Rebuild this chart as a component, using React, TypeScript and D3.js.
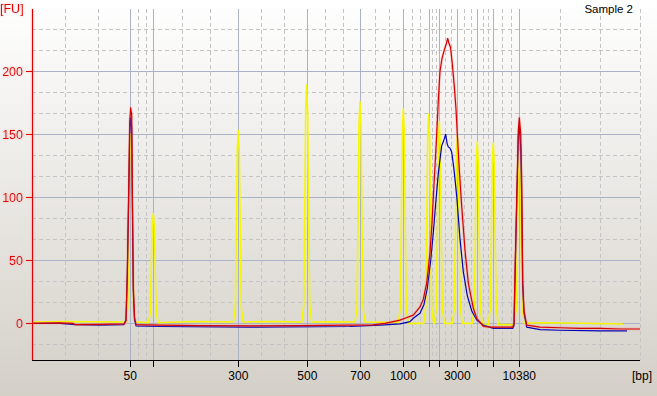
import React, { useEffect } from 'react';
import * as d3 from 'd3';

// ladder (DNA 7500) sizes and their migration times [s]
const ladderBp = [50, 100, 300, 500, 700, 1000, 1500, 2000, 3000, 5000, 7000, 10380];
const ladderTime = [26.83, 29.13, 37.63, 44.53, 49.83, 54.13, 56.67, 57.73, 59.53, 61.53, 63.13, 65.73];
const labeledBp = [50, 300, 500, 700, 1000, 3000, 10380];
const fuTicks = [0, 50, 100, 150, 200];

// [time s, FU]
const redTrace: [number, number][] = [
  [17.0, 0], [19.8, 0.3], [21.1, 0], [21.3, -1], [23.8, -0.8], [26.2, -0.5], [26.4, 2],
  [26.53, 40], [26.67, 106], [26.77, 160], [26.87, 171], [26.97, 165], [27.03, 110],
  [27.13, 30], [27.25, 5], [27.4, -1], [29.8, -1.5], [33.8, -1.8], [38.8, -2], [43.8, -1.8],
  [48.8, -1.5], [51.1, -1.3], [52.3, 0], [53.1, 1.3], [53.8, 2.5], [54.3, 4], [55.13, 6.5],
  [55.8, 13], [56.13, 19], [56.47, 32], [56.8, 56], [57.0, 80], [57.2, 110], [57.47, 150],
  [57.65, 180], [57.8, 200], [58.0, 210], [58.23, 217], [58.4, 221], [58.57, 226], [58.7, 222],
  [58.85, 219], [59.03, 206], [59.23, 188], [59.4, 170], [59.53, 150], [59.73, 122],
  [59.97, 93], [60.3, 58], [60.63, 32], [60.8, 25], [61.13, 12], [61.47, 4], [61.8, 1],
  [62.13, -2.5], [62.8, -3], [64.1, -3], [65.07, -3], [65.2, 0], [65.3, 41], [65.47, 98],
  [65.63, 153], [65.73, 163], [65.87, 151], [65.97, 114], [66.07, 34], [66.2, 10],
  [66.47, -1.5], [67.8, -3], [69.8, -3.5], [71.8, -4], [73.8, -4], [75.8, -4.5], [77.8, -4.5],
];

const blueTrace: [number, number][] = [
  [17.0, 0], [19.8, 0], [21.3, -1], [23.8, -1.5], [26.2, -1], [26.4, 3], [26.53, 38],
  [26.67, 100], [26.77, 150], [26.87, 163], [26.97, 155], [27.03, 100], [27.13, 25],
  [27.25, 3], [27.4, -2], [29.8, -2.5], [38.8, -3], [48.8, -2.5], [51.8, -1.5], [53.8, -0.5],
  [54.8, 1.3], [55.13, 4], [55.8, 8], [56.2, 15], [56.53, 28], [56.87, 50], [57.13, 72],
  [57.4, 98], [57.63, 119], [57.8, 130], [57.97, 141], [58.13, 144], [58.25, 147],
  [58.37, 150], [58.5, 143], [58.63, 140], [58.8, 139], [58.97, 136], [59.2, 122],
  [59.47, 101], [59.8, 67], [60.13, 41], [60.53, 22], [60.97, 10], [61.47, 2.6],
  [62.13, -1.3], [63.13, -4], [65.07, -4], [65.2, -2], [65.3, 35], [65.47, 95], [65.63, 148],
  [65.73, 156], [65.87, 140], [65.97, 100], [66.07, 30], [66.2, 8], [66.47, -3], [67.8, -5],
  [69.8, -5.5], [73.8, -6], [76.5, -6],
];

const yellowTrace: [number, number][] = [
  [17.0, 1], [20.0, 1.5], [23.0, 1.2], [25.5, 1],
  [26.37, 1], [26.57, 12], [26.67, 75], [26.77, 135], [26.87, 150], [26.97, 130], [27.07, 65], [27.17, 12], [27.37, 1],
  [28.63, 0.5], [28.83, 8], [28.93, 45], [29.03, 78], [29.13, 87], [29.23, 76], [29.33, 40], [29.43, 8], [29.63, 0.5],
  [33.0, 1.5],
  [37.13, 1], [37.33, 12], [37.43, 75], [37.53, 138], [37.63, 153], [37.73, 135], [37.83, 70], [37.93, 12], [38.13, 1],
  [41.0, 1.5],
  [43.97, 1], [44.17, 14], [44.27, 85], [44.37, 170], [44.47, 189], [44.57, 165], [44.67, 80], [44.77, 14], [44.97, 1],
  [47.0, 1.2],
  [49.3, 1], [49.5, 12], [49.6, 80], [49.7, 158], [49.8, 176], [49.9, 155], [50.0, 75], [50.1, 12], [50.3, 1],
  [52.0, 0.8],
  [53.63, 0.5], [53.83, 12], [53.93, 75], [54.03, 152], [54.13, 170], [54.23, 150], [54.33, 70], [54.43, 12], [54.63, 0],
  [56.17, 0], [56.37, 12], [56.47, 72], [56.57, 148], [56.67, 166], [56.77, 145], [56.87, 68], [56.97, 12], [57.17, 0],
  [57.23, 0], [57.43, 12], [57.53, 70], [57.63, 142], [57.73, 160], [57.83, 140], [57.93, 65], [58.03, 12], [58.23, 0],
  [59.03, 0], [59.23, 12], [59.33, 65], [59.43, 132], [59.53, 149], [59.63, 130], [59.73, 62], [59.83, 12], [60.03, 0],
  [61.03, 0], [61.23, 12], [61.33, 64], [61.43, 128], [61.53, 144], [61.63, 126], [61.73, 60], [61.83, 12], [62.03, -0.5],
  [62.63, -1], [62.83, 12], [62.93, 63], [63.03, 127], [63.13, 143], [63.23, 125], [63.33, 58], [63.43, 12], [63.63, -1],
  [65.23, -1], [65.43, 12], [65.53, 62], [65.63, 120], [65.73, 136], [65.83, 118], [65.93, 58], [66.03, 12], [66.23, 0],
  [68.0, 0.5], [72.0, 0], [76.1, -0.5],
];

const W = 657;
const H = 396;
const font = '"Liberation Sans", Arial, sans-serif';

export default function App() {
  useEffect(() => {
    document.body.style.margin = '0';
  }, []);

  const x = d3.scaleLinear().domain([17, 77.8]).range([32, 640]);
  const y = d3.scaleLinear().domain([-29.1, 249.4]).range([360, 9]);
  const [x0, x1] = x.range();
  const [yBottom, yTop] = y.range();
  const crisp = (v: number) => Math.round(v) + 0.5;

  // minor grid: thirds between major positions
  const xBounds = [x.domain()[0], ...ladderTime, x.domain()[1]];
  const xMinor: number[] = [];
  for (let i = 0; i < xBounds.length - 1; i++) {
    const a = xBounds[i], b = xBounds[i + 1];
    xMinor.push(a + (b - a) / 3, a + (2 * (b - a)) / 3);
  }
  xMinor.push(x.domain()[1]);
  const yMinor = d3.range(-2, 15).map(k => (k * 50) / 3).filter(v => v % 50 !== 0 && v > y.domain()[0] && v < y.domain()[1]);

  const line = d3.line<[number, number]>().x(d => x(d[0])).y(d => y(d[1]));

  return (
    <svg width={W} height={H} style={{ display: 'block' }} fontFamily={font}>
      <defs>
        <linearGradient id="bg" x1="0" y1="0" x2="0" y2="1">
          <stop offset="0" stopColor="#ffffff" />
          <stop offset="1" stopColor="#d4d0c8" />
        </linearGradient>
        <filter id="glow" x="-20%" y="-20%" width="140%" height="140%">
          <feGaussianBlur in="SourceAlpha" stdDeviation="1.2" result="b" />
          <feFlood floodColor="#ff8080" floodOpacity="0.55" />
          <feComposite in2="b" operator="in" result="g" />
          <feMerge>
            <feMergeNode in="g" />
            <feMergeNode in="SourceGraphic" />
          </feMerge>
        </filter>
      </defs>
      <rect width={W} height={H} fill="url(#bg)" />

      {/* minor grid */}
      <g stroke="#c4c4c4" strokeDasharray="4,3" strokeWidth={1}>
        {xMinor.map((t, i) => (
          <line key={'xm' + i} x1={crisp(x(t))} x2={crisp(x(t))} y1={yTop} y2={yBottom} />
        ))}
        {yMinor.map((v, i) => (
          <line key={'ym' + i} x1={x0} x2={x1} y1={crisp(y(v))} y2={crisp(y(v))} />
        ))}
      </g>

      {/* major grid */}
      <g stroke="#aab3c5" strokeWidth={1}>
        {ladderTime.map((t, i) => (
          <line key={'xM' + i} x1={crisp(x(t))} x2={crisp(x(t))} y1={yTop} y2={yBottom} />
        ))}
        {fuTicks.map(v => (
          <line key={'yM' + v} x1={x0} x2={x1} y1={crisp(y(v))} y2={crisp(y(v))} />
        ))}
      </g>

      {/* traces */}
      <path d={line(yellowTrace) ?? ''} fill="none" stroke="#f6f600" strokeWidth={1.6} strokeLinejoin="round" />
      <path d={line(blueTrace) ?? ''} fill="none" stroke="#0000b4" strokeWidth={1.2} strokeLinejoin="round" />
      <path d={line(redTrace) ?? ''} fill="none" stroke="#ff7070" strokeOpacity={0.25} strokeWidth={2.8} strokeLinejoin="round" />
      <path d={line(redTrace) ?? ''} fill="none" stroke="#d40000" strokeWidth={1.2} strokeLinejoin="round" />

      {/* x axis */}
      <line x1={x0} x2={x1} y1={crisp(yBottom)} y2={crisp(yBottom)} stroke="#000" strokeWidth={1} />
      {ladderTime.map((t, i) => (
        <g key={'xt' + i}>
          <line x1={crisp(x(t))} x2={crisp(x(t))} y1={yBottom} y2={yBottom + 7} stroke="#000" />
          {labeledBp.includes(ladderBp[i]) && (
            <text x={x(t)} y={380} fontSize={12} textAnchor="middle" fill="#000">
              {ladderBp[i]}
            </text>
          )}
        </g>
      ))}
      <text x={652} y={380} fontSize={12} textAnchor="end" fill="#000">[bp]</text>

      {/* y axis */}
      <g filter="url(#glow)">
        <line x1={crisp(x0)} x2={crisp(x0)} y1={yTop} y2={yBottom} stroke="#e00000" strokeWidth={1.2} />
        {fuTicks.map(v => (
          <g key={'yt' + v}>
            <line x1={x0 - 6} x2={x0} y1={crisp(y(v))} y2={crisp(y(v))} stroke="#e00000" />
            <text x={23} y={y(v)} dy="0.36em" fontSize={12.5} textAnchor="end" fill="#e00000">
              {v}
            </text>
          </g>
        ))}
        <text x={0} y={13} fontSize={12.5} fill="#e00000">[FU]</text>
      </g>

      <text x={633} y={13} fontSize={11.5} textAnchor="end" fill="#000">Sample 2</text>
    </svg>
  );
}
